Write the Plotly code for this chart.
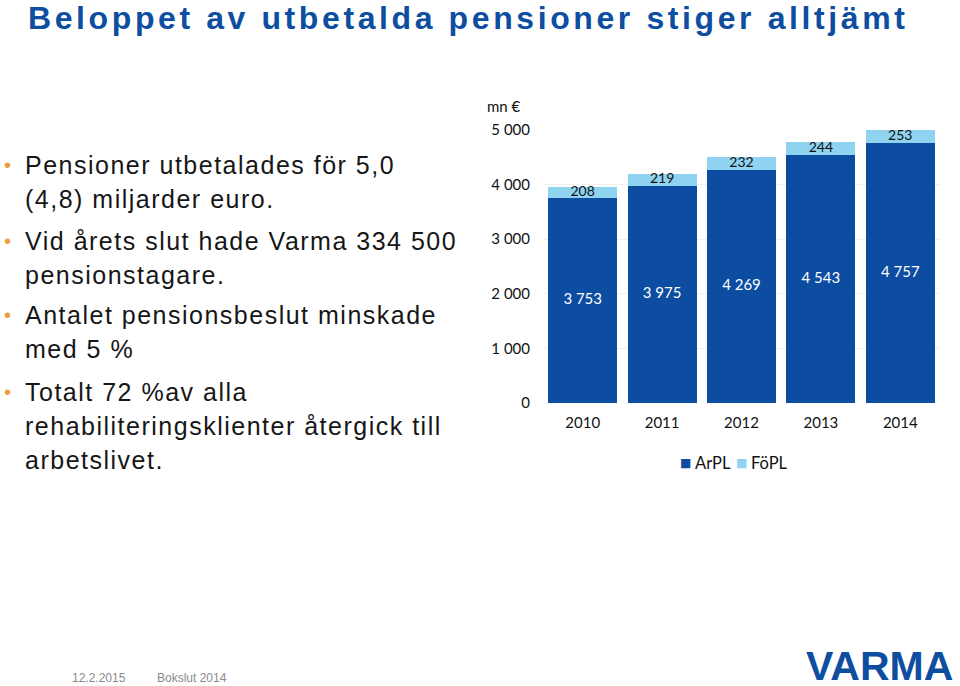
import plotly.graph_objects as go

# ---- data ----
years = ["2010", "2011", "2012", "2013", "2014"]
arpl = [3753, 3975, 4269, 4543, 4757]
fopl = [208, 219, 232, 244, 253]
series_names = ["ArPL", "FöPL"]
y_ticks = [0, 1000, 2000, 3000, 4000, 5000]
y_tick_labels = ["0", "1 000", "2 000", "3 000", "4 000", "5 000"]

title_text = "Beloppet av utbetalda pensioner stiger alltjämt"
bullets = [
    ["Pensioner utbetalades för 5,0", "(4,8) miljarder euro."],
    ["Vid årets slut hade Varma 334 500", "pensionstagare."],
    ["Antalet pensionsbeslut minskade", "med 5 %"],
    ["Totalt 72 %av alla", "rehabiliteringsklienter återgick till", "arbetslivet."],
]
footer_date = "12.2.2015"
footer_text = "Bokslut 2014"
logo_text = "VARMA"

W, H = 960, 686
DARK = "#0c4da2"
LIGHT = "#8fd3f1"
BRAND = "#0d4ea0"
chart_font = "Lato, Open Sans, sans-serif"
colors = [DARK, LIGHT]


def px(x, y):
    return x / W, 1 - y / H


def fmt(v):
    return f"{v:,}".replace(",", " ")


fig = go.Figure()
fig.add_bar(x=years, y=arpl, name=series_names[0], marker=dict(color=DARK, line=dict(width=0)))
fig.add_bar(x=years, y=fopl, name=series_names[1], marker=dict(color=LIGHT, line=dict(width=0)))

# value labels, centred in each segment
fig.add_scatter(x=years, y=[a / 2 for a in arpl], mode="text", text=[fmt(a) for a in arpl],
                textfont=dict(family=chart_font, size=15, color="white"),
                showlegend=False, hoverinfo="skip", cliponaxis=False)
fig.add_scatter(x=years, y=[a + f / 2 for a, f in zip(arpl, fopl)], mode="text",
                text=[fmt(f) for f in fopl],
                textfont=dict(family=chart_font, size=14, color="#111111"),
                showlegend=False, hoverinfo="skip", cliponaxis=False)

annotations = []

# unit label
ux, uy = px(504, 106)
annotations.append(dict(x=ux, y=uy, xref="paper", yref="paper", xanchor="center", yanchor="middle",
                        text="mn €", showarrow=False,
                        font=dict(family=chart_font, size=15, color="#111111")))

# legend (compact, like the original)
legend_square_x = [685.5, 741.5]
legend_text_x = [693, 749]
for name, col, sx, tx_ in zip(series_names, colors, legend_square_x, legend_text_x):
    qx, qy = px(sx, 463)
    annotations.append(dict(x=qx, y=qy, xref="paper", yref="paper", xanchor="center", yanchor="middle",
                            text="■", showarrow=False,
                            font=dict(family="DejaVu Sans", size=12, color=col)))
    tx2, ty2 = px(tx_, 463)
    annotations.append(dict(x=tx2, y=ty2, xref="paper", yref="paper", xanchor="left", yanchor="middle",
                            text=name, showarrow=False,
                            font=dict(family=chart_font, size=16.5, color="#111111")))

# title
tx, ty = px(26, 18)
annotations.append(dict(x=tx, y=ty, xref="paper", yref="paper", xanchor="left", yanchor="middle",
                        text=f"<b><span style='letter-spacing:3.6px'>{title_text}</span></b>",
                        showarrow=False,
                        font=dict(family="Liberation Sans, Arial, sans-serif", size=32, color=BRAND)))

# bullets
starts = [165, 241, 315, 392]
line_gap = 34
for s, lines in zip(starts, bullets):
    bx, by = px(7, s)
    annotations.append(dict(x=bx, y=by, xref="paper", yref="paper", xanchor="center", yanchor="middle",
                            text="•", showarrow=False,
                            font=dict(family="Liberation Sans, Arial", size=20, color="#f39a3a")))
    for i, ln in enumerate(lines):
        lx, ly = px(23, s + i * line_gap)
        annotations.append(dict(x=lx, y=ly, xref="paper", yref="paper", xanchor="left", yanchor="middle",
                                text=f"<span style='letter-spacing:1.5px'>{ln}</span>", showarrow=False,
                                font=dict(family="Liberation Sans, Arial, sans-serif", size=25, color="#161616")))

# footer
fx, fy = px(70, 678)
annotations.append(dict(x=fx, y=fy, xref="paper", yref="paper", xanchor="left", yanchor="middle",
                        text=footer_date, showarrow=False,
                        font=dict(family="Liberation Sans, Arial", size=12, color="#8a8a8a")))
fx, fy = px(155, 678)
annotations.append(dict(x=fx, y=fy, xref="paper", yref="paper", xanchor="left", yanchor="middle",
                        text=footer_text, showarrow=False,
                        font=dict(family="Liberation Sans, Arial", size=12, color="#8a8a8a")))
lx, ly = px(954, 666)
annotations.append(dict(x=lx, y=ly, xref="paper", yref="paper", xanchor="right", yanchor="middle",
                        text=f"<b>{logo_text}</b>", showarrow=False, borderpad=0,
                        font=dict(family="Liberation Sans, Arial", size=41, color=BRAND)))

x0, _ = px(543, 0)
x1, _ = px(940, 0)
_, y0 = px(0, 403)
_, y1 = px(0, 130)

fig.update_layout(
    width=W, height=H,
    margin=dict(l=0, r=0, t=0, b=0, autoexpand=False),
    paper_bgcolor="white", plot_bgcolor="white",
    barmode="stack", bargap=0.13,
    showlegend=False,
    xaxis=dict(type="category", categoryorder="array", categoryarray=years,
               range=[-0.5, len(years) - 0.5], domain=[x0, x1],
               showline=False, showgrid=False, ticks="", zeroline=False,
               tickfont=dict(family=chart_font, size=15, color="#111111"),
               ticklabelstandoff=9, automargin=False),
    yaxis=dict(domain=[y0, y1], range=[0, 5000], tickvals=y_ticks, ticktext=y_tick_labels,
               showgrid=True, gridcolor="#f0f0f0", gridwidth=1, zeroline=False, showline=False,
               ticks="", tickfont=dict(family=chart_font, size=15, color="#111111"),
               ticklabelstandoff=12, automargin=False),
    annotations=annotations,
)

fig.write_html("out.html", config={"displayModeBar": False},
               post_script="document.body.style.margin='0';document.body.style.overflow='hidden';")
